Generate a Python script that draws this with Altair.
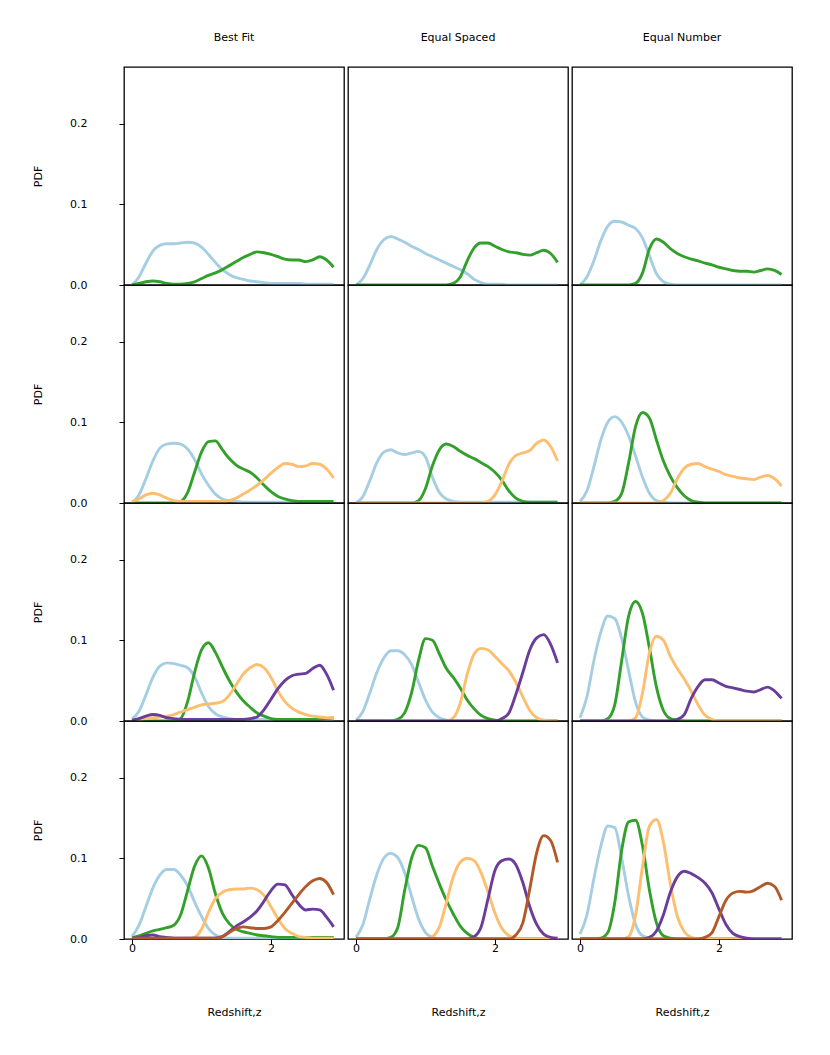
import altair as alt
import pandas as pd

Z = [0.0, 0.1, 0.2, 0.3, 0.4, 0.5, 0.6, 0.7, 0.8, 0.9,
     1.0, 1.1, 1.2, 1.3, 1.4, 1.5, 1.6, 1.7, 1.8, 1.9,
     2.0, 2.1, 2.2, 2.3, 2.4, 2.5, 2.6, 2.7, 2.8, 2.9]

methods = ["Best Fit", "Equal Spaced", "Equal Number"]
bins = ["bin1", "bin2", "bin3", "bin4", "bin5"]
colors = ["#a6cee3", "#33a02c", "#fdbf6f", "#6a3d9a", "#b15928"]

# ---- 2 bins ----
bf2_b1 = [0.0, 0.010, 0.027, 0.042, 0.049, 0.051, 0.051, 0.052, 0.053, 0.052, 0.047, 0.038, 0.028, 0.019, 0.013,
          0.009, 0.007, 0.005, 0.004, 0.003, 0.002, 0.002, 0.002, 0.002, 0.002, 0.001, 0.001, 0.001, 0.001, 0.001]
bf2_b2 = [0.0, 0.002, 0.004, 0.005, 0.004, 0.002, 0.001, 0.001, 0.002, 0.004, 0.008, 0.012, 0.015, 0.019, 0.024,
          0.029, 0.034, 0.038, 0.041, 0.040, 0.038, 0.035, 0.032, 0.031, 0.031, 0.029, 0.031, 0.035, 0.031, 0.022]
es2_b1 = [0.0, 0.008, 0.025, 0.044, 0.056, 0.060, 0.057, 0.053, 0.048, 0.044, 0.039, 0.035, 0.031, 0.027, 0.023,
          0.019, 0.014, 0.007, 0.003, 0.001, 0.001, 0.001, 0.0, 0.0, 0.0, 0.0, 0.0, 0.0, 0.0, 0.0]
es2_b2 = [0.0] * 14 + [0.002, 0.010, 0.030, 0.046, 0.052, 0.052, 0.048, 0.044, 0.041, 0.040, 0.038, 0.037, 0.040,
                       0.043, 0.039, 0.028]
en2_b1 = [0.0, 0.010, 0.030, 0.055, 0.073, 0.079, 0.078, 0.074, 0.070, 0.058, 0.036, 0.014, 0.004, 0.001] + [0.0] * 16
en2_b2 = [0.0] * 8 + [0.002, 0.015, 0.045, 0.057, 0.053, 0.045, 0.039, 0.035, 0.032, 0.030, 0.027, 0.025, 0.022,
                      0.020, 0.018, 0.017, 0.017, 0.016, 0.018, 0.020, 0.018, 0.013]

# ---- 3 bins ----
bf3_b1 = [0.0, 0.010, 0.030, 0.052, 0.068, 0.073, 0.074, 0.073, 0.067, 0.054, 0.036, 0.022, 0.011, 0.005, 0.003,
          0.002] + [0.001] * 14
bf3_b2 = [0.0] * 7 + [0.002, 0.013, 0.038, 0.063, 0.076, 0.077, 0.066, 0.055, 0.047, 0.042, 0.038, 0.031, 0.022,
                      0.014, 0.008, 0.005, 0.003] + [0.002] * 6
bf3_b3 = [0.002, 0.005, 0.010, 0.012, 0.010, 0.006, 0.003, 0.002, 0.002, 0.002, 0.002, 0.002, 0.002, 0.002,
          0.003, 0.006, 0.011, 0.016, 0.022, 0.029, 0.037, 0.044, 0.049, 0.048, 0.045, 0.046, 0.049, 0.048, 0.042, 0.031]
es3_b1 = [0.0, 0.008, 0.028, 0.050, 0.063, 0.066, 0.062, 0.060, 0.062, 0.064, 0.057, 0.032, 0.013, 0.005,
          0.002] + [0.001] * 15
es3_b2 = [0.0] * 9 + [0.003, 0.018, 0.046, 0.066, 0.073, 0.070, 0.064, 0.059, 0.055, 0.050, 0.045, 0.038, 0.028,
                      0.015, 0.006, 0.002] + [0.001] * 5
es3_b3 = [0.0] * 19 + [0.002, 0.010, 0.027, 0.048, 0.059, 0.062, 0.065, 0.074, 0.078, 0.070, 0.052]
en3_b1 = [0.002, 0.015, 0.045, 0.078, 0.100, 0.107, 0.100, 0.083, 0.058, 0.032, 0.012, 0.003, 0.001] + [0.0] * 17
en3_b2 = [0.0] * 5 + [0.002, 0.012, 0.050, 0.095, 0.112, 0.105, 0.078, 0.052, 0.033, 0.019, 0.009, 0.003,
                      0.001] + [0.0] * 12
en3_b3 = [0.0] * 12 + [0.003, 0.012, 0.030, 0.043, 0.048, 0.049, 0.045, 0.042, 0.039, 0.035, 0.033, 0.031, 0.030,
                       0.029, 0.032, 0.034, 0.030, 0.021]

# ---- 4 bins ----
bf4_b1 = [0.002, 0.012, 0.032, 0.054, 0.068, 0.072, 0.071, 0.069, 0.066, 0.055, 0.035, 0.018, 0.009, 0.005,
          0.003] + [0.002] * 15
bf4_b2 = [0.0] * 7 + [0.003, 0.024, 0.060, 0.088, 0.097, 0.085, 0.067, 0.050, 0.036, 0.025, 0.017, 0.010, 0.006,
                      0.003] + [0.002] * 7 + [0.003, 0.004]
bf4_b3 = [0.001, 0.002, 0.003, 0.004, 0.005, 0.006, 0.008, 0.011, 0.014, 0.017, 0.020, 0.021, 0.022, 0.024, 0.032,
          0.045, 0.058, 0.066, 0.070, 0.066, 0.054, 0.037, 0.024, 0.016, 0.011, 0.008, 0.006, 0.005, 0.004, 0.004]
bf4_b4 = [0.001, 0.003, 0.006, 0.008, 0.007, 0.004, 0.003] + [0.002] * 10 + [0.003, 0.005, 0.014, 0.027, 0.040,
                                                                              0.050, 0.056, 0.058, 0.059, 0.065,
                                                                              0.069, 0.058, 0.038]
es4_b1 = [0.001, 0.012, 0.035, 0.060, 0.078, 0.087, 0.087, 0.082, 0.070, 0.048, 0.026, 0.011, 0.004,
          0.001] + [0.0] * 16
es4_b2 = [0.0] * 6 + [0.002, 0.010, 0.035, 0.075, 0.102, 0.100, 0.083, 0.065, 0.054, 0.041, 0.026, 0.015, 0.007,
                      0.003, 0.001] + [0.0] * 9
es4_b3 = [0.0] * 14 + [0.004, 0.022, 0.058, 0.083, 0.090, 0.088, 0.080, 0.071, 0.062, 0.048, 0.030, 0.013, 0.004,
                       0.001, 0.0, 0.0]
es4_b4 = [0.0] * 21 + [0.003, 0.010, 0.033, 0.060, 0.088, 0.103, 0.107, 0.095, 0.072]
en4_b1 = [0.004, 0.030, 0.075, 0.110, 0.130, 0.127, 0.102, 0.062, 0.023, 0.005, 0.001] + [0.0] * 19
en4_b2 = [0.0] * 4 + [0.003, 0.020, 0.075, 0.130, 0.148, 0.133, 0.090, 0.042, 0.013, 0.003, 0.001] + [0.0] * 15
en4_b3 = [0.0] * 8 + [0.004, 0.035, 0.085, 0.105, 0.100, 0.080, 0.065, 0.052, 0.037, 0.020, 0.007,
                      0.002] + [0.0] * 10
en4_b4 = [0.0] * 14 + [0.002, 0.008, 0.028, 0.043, 0.051, 0.051, 0.047, 0.043, 0.041, 0.039, 0.037, 0.036, 0.039,
                       0.042, 0.037, 0.028]

# ---- 5 bins ----
bf5_b1 = [0.003, 0.017, 0.040, 0.063, 0.079, 0.086, 0.086, 0.079, 0.066, 0.046, 0.028, 0.013, 0.005,
          0.002] + [0.001] * 16
bf5_b2 = [0.001, 0.004, 0.007, 0.010, 0.012, 0.014, 0.017, 0.030, 0.060, 0.090, 0.103, 0.088, 0.056, 0.032, 0.019,
          0.012, 0.009, 0.007, 0.005, 0.004, 0.003] + [0.002] * 9
bf5_b3 = [0.0] * 9 + [0.002, 0.012, 0.033, 0.050, 0.058, 0.061, 0.062, 0.062, 0.063, 0.061, 0.054, 0.040, 0.025,
                      0.013, 0.007, 0.003, 0.002] + [0.001] * 4
bf5_b4 = [0.001, 0.002, 0.004, 0.005, 0.003, 0.002] + [0.001] * 7 + [0.003, 0.009, 0.016, 0.021, 0.027, 0.035,
                                                                     0.047, 0.060, 0.068, 0.067, 0.055, 0.043,
                                                                     0.036, 0.037, 0.036, 0.027, 0.015]
bf5_b5 = [0.001] * 13 + [0.003, 0.008, 0.013, 0.015, 0.014, 0.013, 0.013, 0.015, 0.023, 0.033, 0.044, 0.055,
                         0.065, 0.072, 0.075, 0.070, 0.055]
es5_b1 = [0.002, 0.018, 0.050, 0.080, 0.100, 0.106, 0.101, 0.082, 0.053, 0.025, 0.008, 0.002] + [0.0] * 18
es5_b2 = [0.0] * 5 + [0.002, 0.014, 0.060, 0.100, 0.116, 0.113, 0.090, 0.068, 0.048, 0.031, 0.016, 0.007,
                      0.002] + [0.0] * 12
es5_b3 = [0.0] * 11 + [0.003, 0.015, 0.045, 0.077, 0.095, 0.100, 0.097, 0.082, 0.058, 0.032, 0.013, 0.004,
                       0.001] + [0.0] * 6
es5_b4 = [0.0] * 17 + [0.003, 0.015, 0.050, 0.085, 0.097, 0.099, 0.092, 0.070, 0.040, 0.018, 0.006, 0.002, 0.001]
es5_b5 = [0.0] * 23 + [0.005, 0.020, 0.062, 0.107, 0.128, 0.122, 0.095]
en5_b1 = [0.006, 0.030, 0.075, 0.115, 0.140, 0.138, 0.100, 0.053, 0.018, 0.004, 0.001] + [0.0] * 19
en5_b2 = [0.0] * 3 + [0.001, 0.008, 0.045, 0.110, 0.145, 0.147, 0.115, 0.060, 0.020, 0.004, 0.001] + [0.0] * 16
en5_b3 = [0.0] * 7 + [0.003, 0.030, 0.090, 0.140, 0.148, 0.120, 0.068, 0.028, 0.009, 0.002] + [0.0] * 13
en5_b4 = [0.0] * 10 + [0.002, 0.010, 0.030, 0.058, 0.077, 0.084, 0.081, 0.076, 0.069, 0.057, 0.037, 0.018, 0.007,
                       0.003, 0.001] + [0.0] * 5
en5_b5 = [0.0] * 18 + [0.002, 0.008, 0.028, 0.048, 0.057, 0.059, 0.058, 0.060, 0.065, 0.069, 0.065, 0.048]

panels = {
    (2, "Best Fit"): [bf2_b1, bf2_b2],
    (2, "Equal Spaced"): [es2_b1, es2_b2],
    (2, "Equal Number"): [en2_b1, en2_b2],
    (3, "Best Fit"): [bf3_b1, bf3_b2, bf3_b3],
    (3, "Equal Spaced"): [es3_b1, es3_b2, es3_b3],
    (3, "Equal Number"): [en3_b1, en3_b2, en3_b3],
    (4, "Best Fit"): [bf4_b1, bf4_b2, bf4_b3, bf4_b4],
    (4, "Equal Spaced"): [es4_b1, es4_b2, es4_b3, es4_b4],
    (4, "Equal Number"): [en4_b1, en4_b2, en4_b3, en4_b4],
    (5, "Best Fit"): [bf5_b1, bf5_b2, bf5_b3, bf5_b4, bf5_b5],
    (5, "Equal Spaced"): [es5_b1, es5_b2, es5_b3, es5_b4, es5_b5],
    (5, "Equal Number"): [en5_b1, en5_b2, en5_b3, en5_b4, en5_b5],
}

rows = []
for (nb, method), series in panels.items():
    for i, vals in enumerate(series):
        for z, p in zip(Z, vals):
            rows.append({"nbins": nb, "method": method, "bin": bins[i], "order": i, "z": z, "pdf": p})
df = pd.DataFrame(rows)

FONT = "DejaVu Sans"

base = alt.Chart(df).mark_line(strokeWidth=2.9, interpolate="monotone", clip=True).encode(
    x=alt.X("z:Q", scale=alt.Scale(domain=[-0.115, 3.05], nice=False, zero=False),
            axis=alt.Axis(values=[0, 2], format="d", title="Redshift,z", titlePadding=53, labelPadding=-2)),
    y=alt.Y("pdf:Q", scale=alt.Scale(domain=[0, 0.27], nice=False),
            axis=alt.Axis(values=[0.0, 0.1, 0.2], format=".1f", title="PDF", titlePadding=26, labelPadding=32)),
    color=alt.Color("bin:N", scale=alt.Scale(domain=bins, range=colors), legend=None),
    order=alt.Order("order:Q"),
).properties(width=220, height=218)

chart = base.facet(
    row=alt.Row("nbins:O", header=alt.Header(labels=False, title=None)),
    column=alt.Column("method:N", sort=methods,
                      header=alt.Header(title=None, labelFont=FONT, labelFontSize=11,
                                        labelColor="black", labelPadding=24)),
    spacing={"row": 0, "column": 4},
    bounds="flush",
).properties(
    padding={"left": 24, "top": 24, "right": 10, "bottom": 10},
    background="white",
).configure_view(
    stroke="black", strokeWidth=1.3
).configure_axis(
    domain=False, grid=False, tickColor="black", tickWidth=1, tickSize=5,
    labelFont=FONT, labelFontSize=11, labelColor="black",
    titleFont=FONT, titleFontSize=11, titleFontWeight="normal", titleColor="black",
)

chart.save("out.html", embed_options={"renderer": "svg", "actions": False})
